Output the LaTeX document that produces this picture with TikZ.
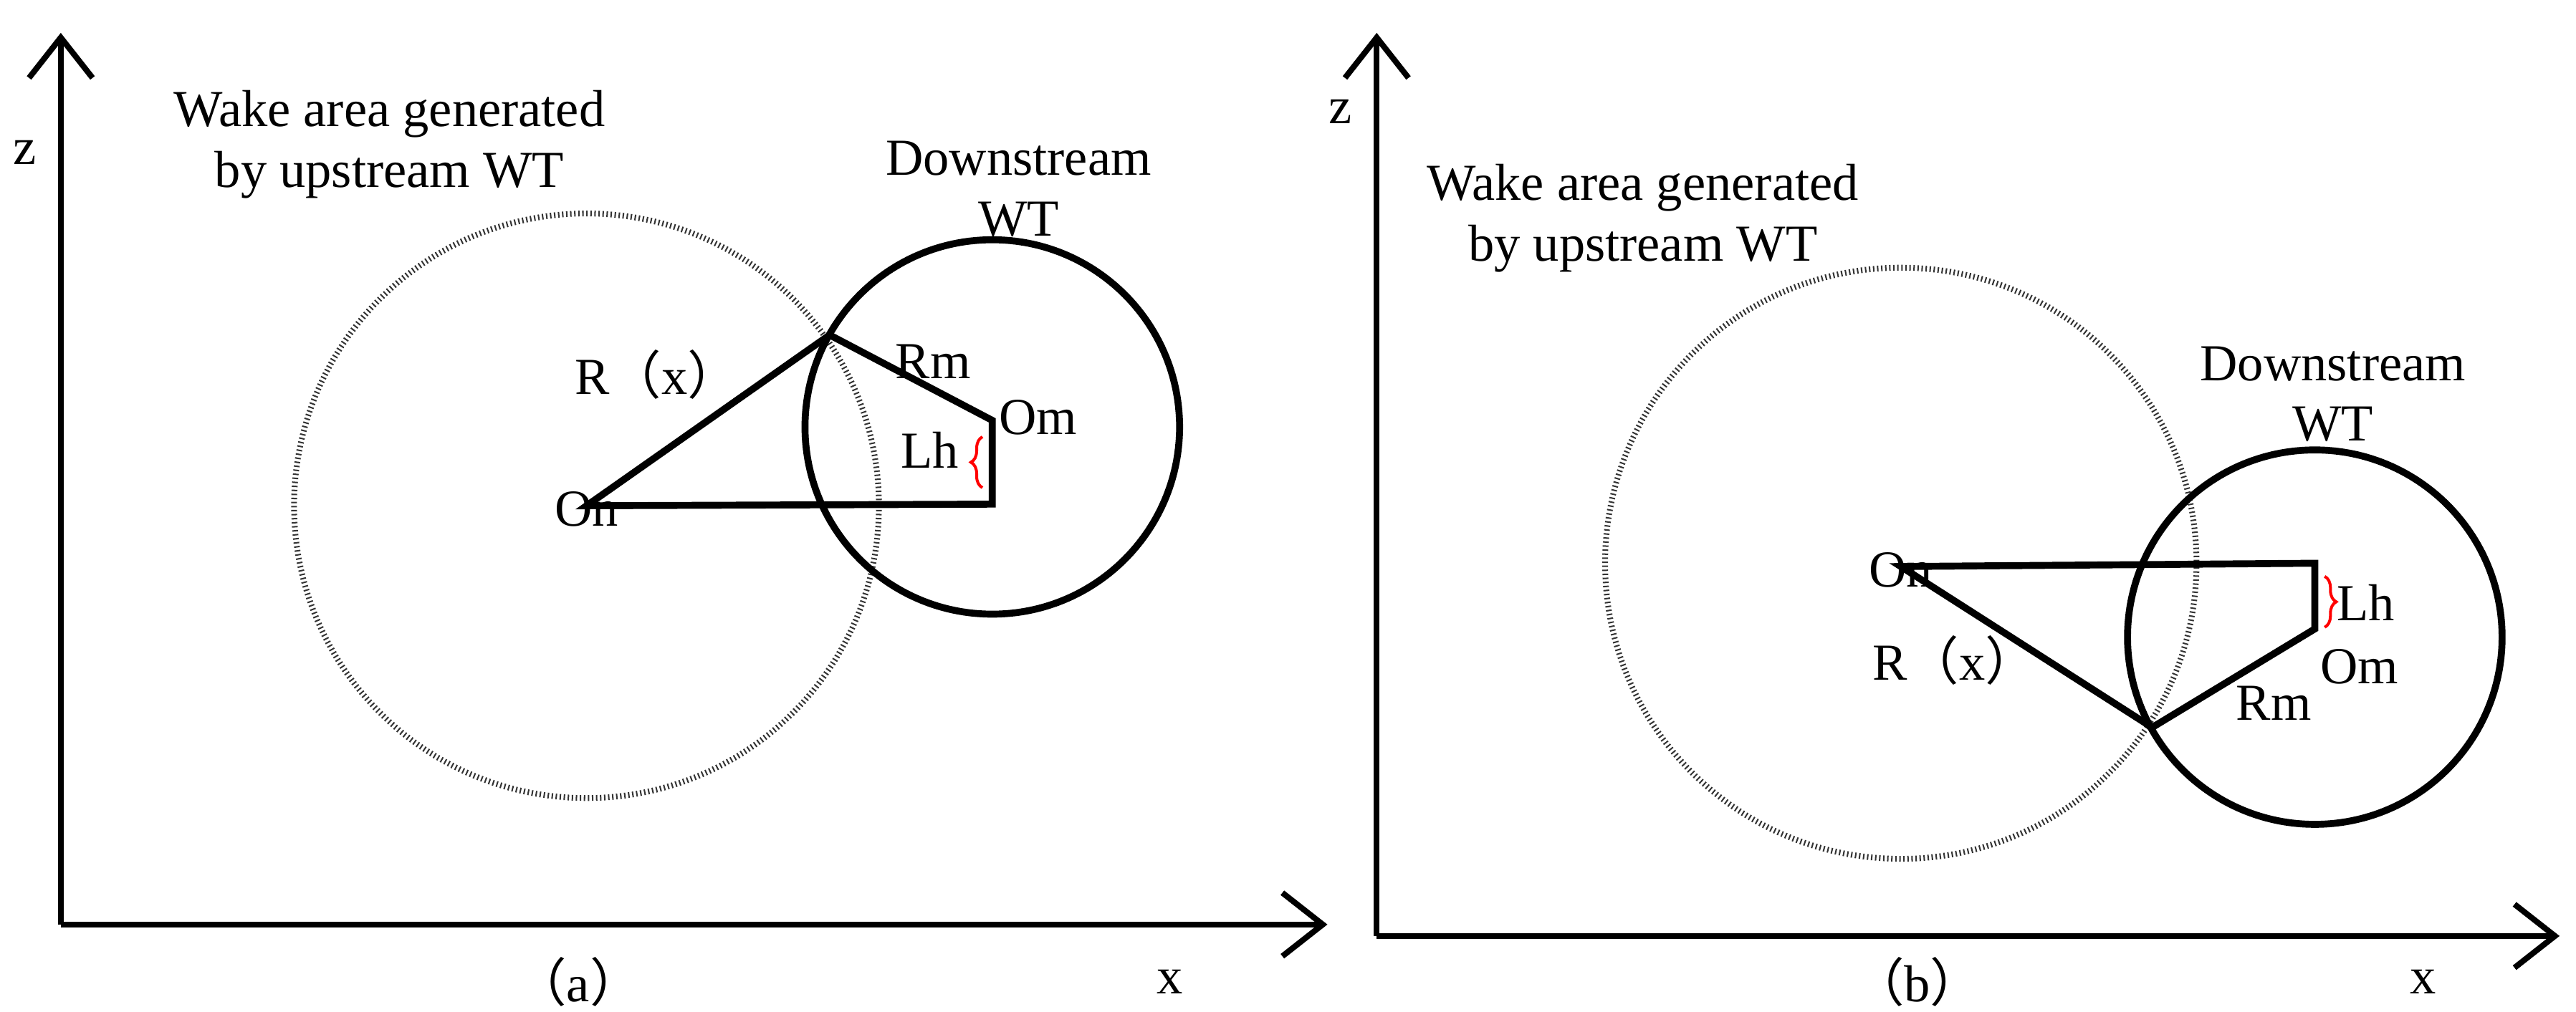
\documentclass[tikz,border=0pt]{standalone}
\usepackage{fontspec}
\setmainfont{Liberation Serif}
\newfontfamily\cjk{Noto Sans CJK SC}
\usetikzlibrary{arrows.meta,decorations.pathreplacing}
\begin{document}
\begin{tikzpicture}[x=0.02cm,y=-0.02cm,
  axis/.style={line width=2pt,-{Straight Barb[length=14pt,width=22pt,line width=2pt]}},
  wake/.style={line width=2pt,dash pattern=on 0.5pt off 0.9pt,black!80},
  wt/.style={line width=2.4pt},
  seg/.style={line width=2.4pt,line join=miter},
  lbl/.style={font=\fontsize{18}{21}\selectfont,inner sep=1pt,align=center},
  br/.style={red,line width=1pt,decorate,decoration={brace,amplitude=4pt}}]
\useasboundingbox (0,0) rectangle (1568,616);
% panel a
\coordinate (oa) at (37,563);
\coordinate (za) at (37,20);
\coordinate (xa) at (808,563);
\draw[axis] (oa) -- (za);
\draw[axis] (oa) -- (xa);
\draw[wake] (357,308) circle (178);
\draw[wt] (604,260) circle (114);
\coordinate (Ona) at (357,308);
\coordinate (Ia) at (505,204);
\coordinate (Oma) at (604,256);
\coordinate (Fa) at (604,307);
\draw[seg] (Ona) -- (Ia) -- (Oma) -- (Fa) -- cycle;
\draw[br] (598,297) -- (598,266);
\node[lbl] (za_l) at (15,93) {z};
\node[lbl] (wa) at (237,88) {Wake area generated\\by upstream WT};
\node[lbl] (da) at (620,115) {Downstream\\WT};
\node[lbl] (ra) at (400,228) {R{\cjk（}x{\cjk）}};
\node[lbl] (rma) at (568,220) {Rm};
\node[lbl] (oma_l) at (632,254) {Om};
\node[lbl] (lha) at (566,274) {Lh};
\node[lbl] (ona_l) at (357,310) {On};
\node[lbl] (capa) at (352,598) {{\cjk（}a{\cjk）}};
\node[lbl] (xa_l) at (712,598) {x};
% panel b
\coordinate (ob) at (838,570);
\coordinate (zb) at (838,20);
\coordinate (xb) at (1558,570);
\draw[axis] (ob) -- (zb);
\draw[axis] (ob) -- (xb);
\draw[wake] (1157,343) circle (180);
\draw[wt] (1409,388) circle (114);
\coordinate (Onb) at (1157,345);
\coordinate (Fb) at (1409,343);
\coordinate (Omb) at (1409,383);
\coordinate (Ib) at (1310,443);
\draw[seg] (Onb) -- (Fb) -- (Omb) -- (Ib) -- cycle;
\draw[br] (1415,351) -- (1415,382);
\node[lbl] (zb_l) at (816,68) {z};
\node[lbl] (wb) at (1000,133) {Wake area generated\\by upstream WT};
\node[lbl] (db) at (1420,240) {Downstream\\WT};
\node[lbl] (rb) at (1190,402) {R{\cjk（}x{\cjk）}};
\node[lbl] (rmb) at (1384,428) {Rm};
\node[lbl] (omb_l) at (1436,406) {Om};
\node[lbl] (lhb) at (1440,367) {Lh};
\node[lbl] (onb_l) at (1157,347) {On};
\node[lbl] (capb) at (1167,598) {{\cjk（}b{\cjk）}};
\node[lbl] (xb_l) at (1475,598) {x};
\end{tikzpicture}
\end{document}
